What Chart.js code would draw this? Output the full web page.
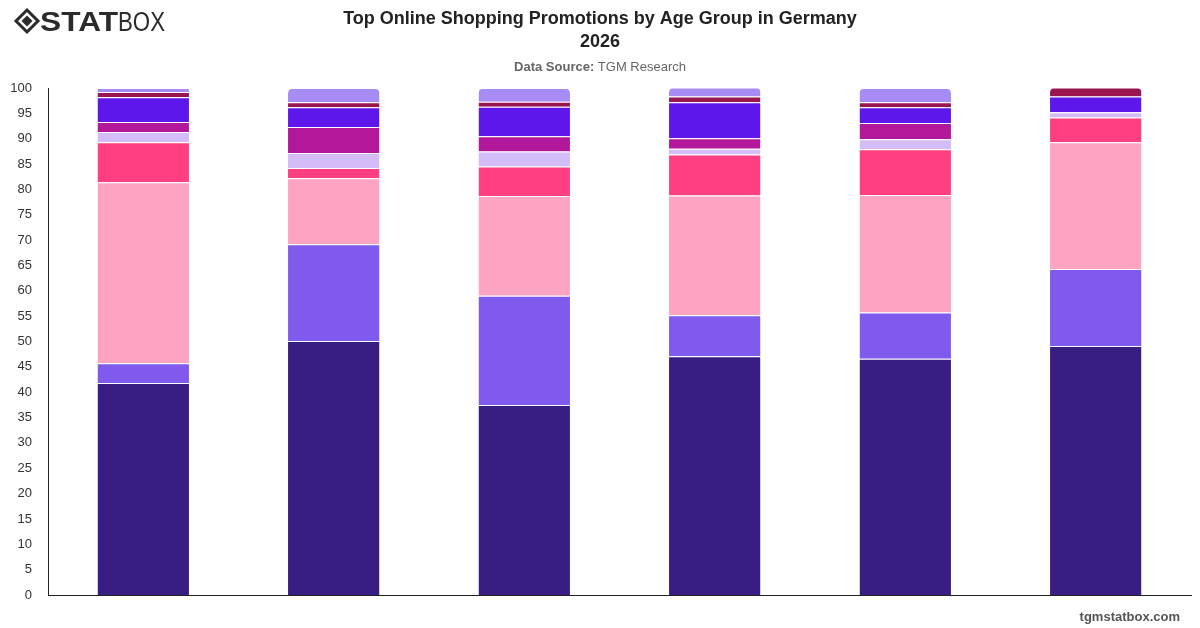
<!DOCTYPE html>
<html>
<head>
<meta charset="utf-8">
<script src="https://cdn.jsdelivr.net/npm/chart.js@4/dist/chart.umd.min.js"></script>
<style>
  html, body { margin: 0; padding: 0; background: #fff; }
  #wrap { position: relative; width: 1200px; height: 628px; }
</style>
</head>
<body>
<div id="wrap"><canvas id="chart"></canvas></div>
<script>
// age groups (the labels are not shown on the chart)
const ageGroups = ['18-24', '25-34', '35-44', '45-54', '55-64', '65+']
const yTicks = [0, 5, 10, 15, 20, 25, 30, 35, 40, 45, 50, 55, 60, 65, 70, 75, 80, 85, 90, 95, 100]

// shares in %, bottom segment first
const freeShipping   = [41.8, 50.1, 37.5, 47.1, 46.6, 49.1]
const discounts      = [3.9, 19.1, 21.5, 8.1, 9.1, 15.2]
const buyOneGetOne   = [35.7, 13.0, 19.7, 23.6, 23.2, 25.0]
const cashback       = [7.9, 2.0, 5.8, 8.1, 9.0, 4.9]
const loyaltyPoints  = [2.0, 3.0, 3.0, 1.1, 2.0, 1.0]
const flashSales     = [2.0, 5.1, 3.0, 2.1, 3.2, 0]
const vouchers       = [4.9, 3.9, 5.8, 7.1, 3.1, 3.1]
const bundles        = [1.0, 1.0, 1.0, 1.1, 1.0, 1.8]
const other          = [0.8, 2.8, 2.7, 1.8, 2.8, 0]

const series = [
  { label: 'Free Shipping', data: freeShipping, color: '#381E82' },
  { label: 'Discounts', data: discounts, color: '#7F5AEC' },
  { label: 'Buy One Get One', data: buyOneGetOne, color: '#FFA3C3' },
  { label: 'Cashback', data: cashback, color: '#FF3F82' },
  { label: 'Loyalty Points', data: loyaltyPoints, color: '#D4BCF8' },
  { label: 'Flash Sales', data: flashSales, color: '#B3189B' },
  { label: 'Vouchers', data: vouchers, color: '#5E17EB' },
  { label: 'Bundles', data: bundles, color: '#9A1650' },
  { label: 'Other', data: other, color: '#A68CF4' }
]

const FONT = "'Liberation Sans', Arial, sans-serif"

// header, logo and footer drawn straight on the canvas
const decorations = {
  id: 'decorations',
  afterDraw(chart) {
    const ctx = chart.ctx
    ctx.save()

    // logo
    ctx.fillStyle = '#2b2b2b'
    ctx.strokeStyle = '#2b2b2b'
    ctx.lineWidth = 3
    ctx.beginPath()
    ctx.moveTo(27, 10); ctx.lineTo(38, 21); ctx.lineTo(27, 32); ctx.lineTo(16, 21); ctx.closePath()
    ctx.stroke()
    ctx.beginPath()
    ctx.moveTo(27, 15.5); ctx.lineTo(32.5, 21); ctx.lineTo(27, 26.5); ctx.lineTo(21.5, 21); ctx.closePath()
    ctx.fill()
    ctx.textBaseline = 'alphabetic'
    ctx.textAlign = 'left'

    ctx.font = `900 27px ${FONT}`
    const ws = ctx.measureText('STAT').width
    ctx.save()
    ctx.translate(40, 31)
    ctx.scale(78 / ws, 1)
    ctx.fillText('STAT', 0, 0)
    ctx.restore()

    ctx.font = `300 27px ${FONT}`
    const wb0 = ctx.measureText('BOX').width
    ctx.save()
    ctx.translate(118, 31)
    ctx.scale(47 / wb0, 1)
    ctx.fillText('BOX', 0, 0)
    ctx.restore()

    // title
    ctx.textAlign = 'center'
    ctx.fillStyle = '#222'
    ctx.font = `bold 18px ${FONT}`
    ctx.fillText('Top Online Shopping Promotions by Age Group in Germany', 600, 24)
    ctx.fillText('2026', 600, 47)

    // data source
    ctx.font = `bold 13px ${FONT}`
    const a = 'Data Source: '
    const wa = ctx.measureText(a).width
    ctx.font = `13px ${FONT}`
    const b = 'TGM Research'
    const wb = ctx.measureText(b).width
    let x = 600 - (wa + wb) / 2
    ctx.textAlign = 'left'
    ctx.fillStyle = '#666'
    ctx.font = `bold 13px ${FONT}`
    ctx.fillText(a, x, 71)
    ctx.font = `13px ${FONT}`
    ctx.fillText(b, x + wa, 71)

    // footer
    ctx.textAlign = 'right'
    ctx.fillStyle = '#555'
    ctx.font = `bold 13px ${FONT}`
    ctx.fillText('tgmstatbox.com', 1180, 621)

    ctx.restore()
  }
}

new Chart(document.getElementById('chart'), {
  type: 'bar',
  data: {
    labels: ageGroups,
    datasets: series.map(s => ({
      label: s.label,
      data: s.data,
      backgroundColor: s.color,
      borderColor: '#fff',
      borderWidth: { top: 1, left: 0, right: 0, bottom: 0 },
      borderRadius: 5,
      categoryPercentage: 0.8,
      barPercentage: 0.6
    }))
  },
  options: {
    responsive: true,
    maintainAspectRatio: false,
    animation: false,
    layout: { padding: { top: 88, right: 9, bottom: 25, left: 0 } },
    plugins: {
      legend: { display: false },
      tooltip: { enabled: false }
    },
    scales: {
      x: {
        stacked: true,
        grid: { display: false },
        border: { display: true, color: '#222', width: 1 },
        ticks: { display: false }
      },
      y: {
        stacked: true,
        min: 0,
        max: 100,
        afterFit(scale) { scale.width = 48 },
        afterBuildTicks(scale) { scale.ticks = yTicks.map(v => ({ value: v })) },
        grid: { display: false, drawTicks: false },
        border: { display: true, color: '#222', width: 1 },
        ticks: {
          padding: 16,
          color: '#333',
          font: { family: FONT, size: 13 }
        }
      }
    }
  },
  plugins: [decorations]
})
</script>
</body>
</html>
